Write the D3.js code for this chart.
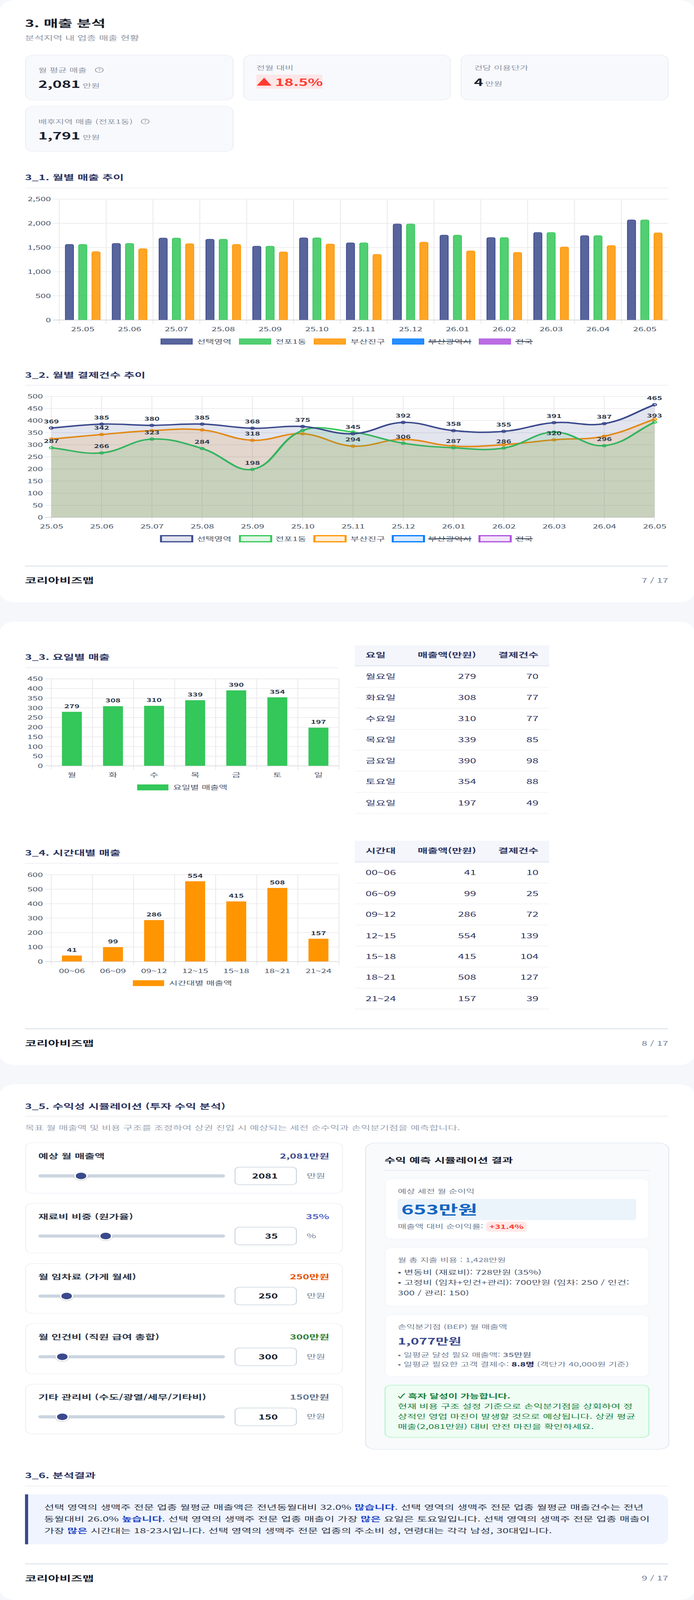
<!DOCTYPE html>
<html lang="ko">
<head>
<meta charset="utf-8">
<title>3. 매출 분석</title>
<script src="https://cdnjs.cloudflare.com/ajax/libs/d3/7.8.5/d3.min.js"></script>
<style>
html,body{margin:0;padding:0;background:#f5f7fb;overflow:hidden;}
svg{display:block;width:100vw;height:100vh;}
text{font-family:"Noto Sans CJK KR","Noto Sans KR",sans-serif;}
</style>
</head>
<body>
<svg id="page" viewBox="0 0 1776 6604" preserveAspectRatio="none"></svg>
<script>
// ---------- data ----------
const months = ["25.05","25.06","25.07","25.08","25.09","25.10","25.11","25.12","26.01","26.02","26.03","26.04","26.05"];
const salesSelected = [1567,1587,1697,1674,1529,1702,1598,1989,1759,1708,1812,1748,2073];
const salesDong     = [1567,1587,1697,1674,1529,1702,1598,1989,1759,1708,1812,1748,2073];
const salesDistrict = [1416,1478,1580,1567,1411,1575,1360,1613,1432,1401,1513,1541,1805];
const salesTicks = [0,500,1000,1500,2000,2500];

const countSelected = [369,385,380,385,368,375,345,392,358,355,391,387,465];
const countDong     = [287,266,323,284,198,359,352,306,287,286,352,296,393];
const countDistrict = [323,342,358,361,318,345,294,322,294,300,320,335,405];
const countDongLabels     = [287,266,323,284,198,null,null,306,287,286,null,296,393];
const countDistrictLabels = [null,342,null,null,318,null,294,null,null,null,320,null,null];
const countTicks = [0,50,100,150,200,250,300,350,400,450,500];

const legendNames = ["선택영역","전포1동","부산진구","부산광역시","전국"];
const legendColors = ["#3b4a8c","#34c759","#ff9500","#007aff","#af52de"];
const legendHidden = [false,false,false,true,true];

const weekdays = ["월","화","수","목","금","토","일"];
const weekdayNames = ["월요일","화요일","수요일","목요일","금요일","토요일","일요일"];
const weekdaySales = [279,308,310,339,390,354,197];
const weekdayCounts = [70,77,77,85,98,88,49];
const weekdayTicks = [0,50,100,150,200,250,300,350,400,450];

const hours = ["00~06","06~09","09~12","12~15","15~18","18~21","21~24"];
const hourSales = [41,99,286,554,415,508,157];
const hourCounts = [10,25,72,139,104,127,39];
const hourTicks = [0,100,200,300,400,500,600];

const tableSalesHeader = "매출액(만원)";
const tableCountHeader = "결제건수";

const sliderLabels = ["예상 월 매출액","재료비 비중 (원가율)","월 임차료 (가게 월세)","월 인건비 (직원 급여 총합)","기타 관리비 (수도/광열/세무/기타비)"];
const sliderTexts = ["2,081만원","35%","250만원","300만원","150만원"];
const sliderValues = [2081,35,250,300,150];
const sliderMax = [10000,100,2000,3000,1500];
const sliderUnits = ["만원","%","만원","만원","만원"];
const sliderColors = ["#3b4a8c","#5a67c4","#e65100","#2e7d32","#64748b"];

// ---------- helpers ----------
const svg = d3.select("#page");
const NAVY="#2d3561", INK="#1a202c", TICK="#4a5568", GRID="#e9e9ee", ZERO="#d9d9dd";

function txt(x,y,s,o={}){ // y is the visual centre of the line
  return svg.append("text").attr("x",x).attr("y",y).attr("dy",o.base?0:"0.37em")
    .attr("font-size",o.size||24).attr("font-weight",o.weight||400)
    .attr("fill",o.fill||INK).attr("text-anchor",o.anchor||"start").text(s);
}
function rich(x,y,runs,o={}){
  const t=svg.append("text").attr("x",x).attr("y",y).attr("dy",o.base?0:"0.37em")
    .attr("font-size",o.size||24).attr("fill",o.fill||INK);
  runs.forEach(r=>{
    const sp=t.append("tspan").text(r[0]);
    const st=r[1]||{};
    if(st.weight) sp.attr("font-weight",st.weight);
    if(st.fill) sp.attr("fill",st.fill);
    if(st.size) sp.attr("font-size",st.size);
    if(st.dx) sp.attr("dx",st.dx);
  });
  return t;
}
function box(x,y,w,h,r,fill,stroke,sw){
  return svg.append("rect").attr("x",x).attr("y",y).attr("width",w).attr("height",h).attr("rx",r)
    .attr("fill",fill).attr("stroke",stroke||"none").attr("stroke-width",sw||0);
}
function rule(x1,x2,y,c,w){
  svg.append("line").attr("x1",x1).attr("x2",x2).attr("y1",y).attr("y2",y).attr("stroke",c).attr("stroke-width",w);
}
function sectionTitle(s,y,ry,x2){
  txt(64,y,s,{size:30,weight:700,fill:NAVY});
  rule(64,x2||1710,ry,"#f0f1f6",3.5);
}
function footer(y,page){
  rule(64,1710,y,"#cbd5e0",2.5);
  txt(64,y+59.5,"코리아비즈맵",{size:32,weight:700,fill:INK});
  txt(1710,y+59.5,page,{size:26,fill:"#718096",anchor:"end"});
}
function helpIcon(cx,cy){
  svg.append("circle").attr("cx",cx).attr("cy",cy).attr("r",10).attr("fill","none").attr("stroke","#8a94a6").attr("stroke-width",2);
  txt(cx,cy,"?",{size:14,fill:"#8a94a6",anchor:"middle"});
}
function yAxis(y,ticks,left,right,fmt){
  const g=svg.append("g").attr("transform",`translate(${left},0)`)
    .call(d3.axisLeft(y).tickValues(ticks).tickFormat(fmt).tickSizeOuter(0));
  g.select(".domain").remove();
  g.selectAll(".tick line").attr("x1",-16).attr("x2",right-left)
    .attr("stroke",d=>d===0?ZERO:GRID).attr("stroke-width",d=>d===0?3:2.5);
  g.selectAll(".tick text").attr("x",-21.5).attr("dy","0.37em")
    .attr("font-size",24).attr("fill",TICK).attr("font-family",null);
  return g;
}
function vGrid(xs,top,bottom){
  svg.append("g").selectAll("line").data(xs).join("line")
    .attr("x1",d=>d).attr("x2",d=>d).attr("y1",top).attr("y2",bottom)
    .attr("stroke",GRID).attr("stroke-width",2);
}
function xAxis(x,y0,labelY){
  const g=svg.append("g").attr("transform",`translate(0,${labelY})`)
    .call(d3.axisBottom(x).tickSize(0).tickPadding(0));
  g.select(".domain").remove();
  g.selectAll(".tick line").remove();
  g.selectAll(".tick text").attr("y",0).attr("dy","0.37em").attr("font-size",24).attr("fill",TICK).attr("font-family",null);
}
function legendItem(bx,tx,cy,h,i,o){
  box(bx,cy-h/2,80,h,0,o.fill,o.stroke||"none",o.sw||0);
  const t=txt(tx,cy,o.name||legendNames[i],{size:24,fill:TICK});
  if(o.hidden){
    const w=t.node().getComputedTextLength();
    rule(tx,tx+w,cy,"#3a4451",3.5);
  }
}
function alpha(c,a){const k=d3.rgb(c);k.opacity=a;return k.formatRgb();}
function topRounded(x,y,w,h,r){
  const p=d3.path();
  p.moveTo(x,y+h); p.lineTo(x,y+r);
  p.quadraticCurveTo(x,y,x+r,y); p.lineTo(x+w-r,y);
  p.quadraticCurveTo(x+w,y,x+w,y+r); p.lineTo(x+w,y+h);
  return p.toString();
}
// Chart.js style bezier spline (tension 0.4) as a d3 curve
function ChartSpline(ctx){this._c=ctx;}
ChartSpline.prototype={
  areaStart(){this._line=0;},
  areaEnd(){this._line=NaN;},
  lineStart(){this._p=[];},
  point(x,y){this._p.push([x,y]);},
  lineEnd(){
    const p=this._p,c=this._c,T=0.4;
    const cp=p.map((cur,i)=>{
      const a=p[i-1]||cur,b=p[i+1]||cur;
      const d01=Math.hypot(cur[0]-a[0],cur[1]-a[1]),d12=Math.hypot(b[0]-cur[0],b[1]-cur[1]);
      const s=d01+d12||1,fa=T*d01/s,fb=T*d12/s;
      return {p:[cur[0]-fa*(b[0]-a[0]),cur[1]-fa*(b[1]-a[1])],n:[cur[0]+fb*(b[0]-a[0]),cur[1]+fb*(b[1]-a[1])]};
    });
    p.forEach((q,i)=>{
      if(i===0){ this._line?c.lineTo(q[0],q[1]):c.moveTo(q[0],q[1]); }
      else c.bezierCurveTo(cp[i-1].n[0],cp[i-1].n[1],cp[i].p[0],cp[i].p[1],q[0],q[1]);
    });
    if(this._line||(this._line!==0&&p.length===1)) c.closePath();
    this._line=1-this._line;
  }
};
const chartSpline=ctx=>new ChartSpline(ctx);

// ---------- cards ----------
[[0,2486.5],[2565,4396],[4475,6604]].forEach(c=>box(0,c[0],1776,c[1]-c[0],40,"#ffffff"));

// ---------- header + KPI ----------
txt(64,97,"3. 매출 분석",{size:40,weight:700,fill:INK});
txt(64,156,"분석지역 내 업종 매출 현황",{size:26,fill:"#8b95a5"});

function kpi(x,y,w,h){box(x,y,w,h,22,"#f8f9fd","#eef0f5",2.5);}
kpi(65.5,227,531,186); kpi(623.5,227,529,186); kpi(1180,227,530,186); kpi(65.5,439,531,186);
const GREY="#8a94a6";
txt(98,289,"월 평균 매출",{size:24,fill:GREY}); helpIcon(254,289);
rich(98,363,[["2,081",{weight:700,size:40}],["만원",{size:24,fill:GREY,dx:6}]],{base:true});
txt(656,279,"전월 대비",{size:24,fill:GREY});
box(656,308,169,58,0,"#fbe6e8");
rich(656,354,[["▲",{weight:700,size:40,fill:"#ff3b30"}],["18.5%",{weight:700,size:40,fill:"#ff3b30",dx:8}]],{base:true});
txt(1213,279,"건당 이용단가",{size:24,fill:GREY});
rich(1213,354,[["4",{weight:700,size:40}],["만원",{size:24,fill:GREY,dx:5}]],{base:true});
txt(98,501.5,"배후지역 매출 (전포1동)",{size:24,fill:GREY}); helpIcon(371.5,501.5);
rich(98,575.5,[["1,791",{weight:700,size:40}],["만원",{size:24,fill:GREY,dx:6}]],{base:true});

// ---------- 3_1 bars ----------
sectionTitle("3_1. 월별 매출 추이",732,775.5);
(function(){
  const L=151.8,R=1710,T=821.3,B=1320.3;
  const x=d3.scaleBand().domain(months).range([L,R]);
  const y=d3.scaleLinear().domain([0,2500]).range([B,T]);
  vGrid(months.map(m=>x(m)),T,B+16.5);
  yAxis(y,salesTicks,L,R,d3.format(","));
  xAxis(x,B,1358.6);
  const series=[salesSelected,salesDong,salesDistrict];
  months.forEach((m,mi)=>{
    const c=x(m)+x.bandwidth()/2;
    const inner=d3.scaleBand().domain([0,1,2]).range([c-51,c+51]).paddingInner(1/3).paddingOuter(1/6);
    series.forEach((s,si)=>{
      const v=s[mi],top=y(v);
      svg.append("path").attr("d",topRounded(inner(si)+1,top+1,inner.bandwidth()-2,y(0)-top-1,6))
        .attr("fill",alpha(legendColors[si],0.85)).attr("stroke",legendColors[si]).attr("stroke-width",2);
    });
  });
  const bx=[412,612.7,804,1004.5,1226.5],tx=[504,704.4,897,1096,1319];
  legendNames.forEach((n,i)=>legendItem(bx[i],tx[i],1409.6,23,i,{fill:alpha(legendColors[i],0.85),stroke:legendColors[i],sw:2,hidden:legendHidden[i]}));
})();

// ---------- 3_2 lines ----------
sectionTitle("3_2. 월별 결제건수 추이",1548,1590);
(function(){
  const L=131.4,R=1675,T=1635.6,B=2135;
  const x=d3.scalePoint().domain(months).range([L,R]);
  const y=d3.scaleLinear().domain([0,500]).range([B,T]);
  vGrid(months.map(m=>x(m)),T,B+15);
  yAxis(y,countTicks,L,R,d3.format("d"));
  xAxis(x,B,2172.6);
  const series=[countSelected,countDong,countDistrict];
  const area=d3.area().x((d,i)=>x(months[i])).y0(y(0)).y1(d=>y(d)).curve(chartSpline);
  const line=d3.line().x((d,i)=>x(months[i])).y(d=>y(d)).curve(chartSpline);
  [2,1,0].forEach(si=>{
    const c=legendColors[si],s=series[si];
    svg.append("path").attr("d",area(s)).attr("fill",alpha(c,0.15));
    svg.append("path").attr("d",line(s)).attr("fill","none").attr("stroke",c).attr("stroke-width",6);
    svg.append("g").selectAll("circle").data(s).join("circle")
      .attr("cx",(d,i)=>x(months[i])).attr("cy",d=>y(d)).attr("r",5)
      .attr("fill",alpha(c,0.15)).attr("stroke",c).attr("stroke-width",3);
  });
  [countSelected,countDongLabels,countDistrictLabels].forEach(s=>{
    s.forEach((v,i)=>{ if(v!==null)
      txt(x(months[i]),y(v)-27.5,v,{size:22,weight:700,fill:"#2d3748",anchor:"middle"}); });
  });
  const bx=[412,614,804.5,1005,1227],tx=[504,704.4,897,1096,1319];
  legendNames.forEach((n,i)=>legendItem(bx[i],tx[i],2223.6,25,i,{fill:alpha(legendColors[i],0.15),stroke:legendColors[i],sw:5,hidden:legendHidden[i]}));
})();
footer(2336.5,"7 / 17");

// ---------- day / hour bars + tables ----------
function barPanel(cats,vals,ticks,color,T,B,labelY,name,legY,legH,bx,tx){
  const L=131.4,R=867.5;
  const x=d3.scaleBand().domain(cats).range([L,R]);
  const y=d3.scaleLinear().domain([0,ticks[ticks.length-1]]).range([B,T]);
  vGrid(cats.map(c=>x(c)).concat([R]),T,B+16.5);
  yAxis(y,ticks,L,R,d3.format("d"));
  xAxis(x,B,labelY);
  svg.append("g").selectAll("rect").data(vals).join("rect")
    .attr("x",(d,i)=>x(cats[i])+x.bandwidth()/2-25.5).attr("width",51)
    .attr("y",d=>y(d)).attr("height",d=>y(0)-y(d)).attr("fill",color);
  vals.forEach((v,i)=>txt(x(cats[i])+x.bandwidth()/2,y(v)-23.5,v,{size:22,weight:700,fill:"#2d3748",anchor:"middle"}));
  legendItem(bx,tx,legY,legH,0,{fill:color,name:name});
}
function table(head,c1,c2,c3,hT,hB,hC,rowC,lines){
  box(908,hT,497.4,hB-hT,0,"#f4f6fb");
  rule(908,1405.4,hB-2,"#e2e8f0",4);
  txt(935.5,hC,head,{size:28,weight:700,fill:NAVY});
  txt(1218.6,hC,tableSalesHeader,{size:28,weight:700,fill:NAVY,anchor:"end"});
  txt(1378,hC,tableCountHeader,{size:28,weight:700,fill:NAVY,anchor:"end"});
  c1.forEach((n,i)=>{
    txt(935.5,rowC[i],n,{size:28,fill:NAVY});
    txt(1218.6,rowC[i],c2[i],{size:28,fill:NAVY,anchor:"end"});
    txt(1378,rowC[i],c3[i],{size:28,fill:NAVY,anchor:"end"});
    rule(908,1405.4,lines[i],"#eff1f5",2.5);
  });
}
sectionTitle("3_3. 요일별 매출",2711.7,2756,867.5);
barPanel(weekdays,weekdaySales,weekdayTicks,"#34c759",2801.5,3160.7,3197.5,"요일별 매출액",3250,24.5,351,443);
table("요일",weekdayNames,weekdaySales,weekdayCounts,2662.8,2750,2703,
  [2791.8,2879.6,2966,3053.5,3139.7,3226,3314],[2836.7,2923,3010.7,3096.4,3182.7,3270.4,3356.8]);

sectionTitle("3_4. 시간대별 매출",3520,3563.4,867.5);
barPanel(hours,hourSales,hourTicks,"#ff9500",3610,3968.4,4006.6,"시간대별 매출액",4058,24,340,432.6);
table("시간대",hours,hourSales,hourCounts,3470.3,3559.6,3511.7,
  [3601.7,3687.8,3773.9,3861.8,3948,4034,4122],[3645,3731,3818.5,3904.6,3991.3,4078.7,4164.8]);
footer(4246.4,"8 / 17");

// ---------- 3_5 simulation ----------
sectionTitle("3_5. 수익성 시뮬레이션 (투자 수익 분석)",4566,4607.4);
txt(64,4654,"목표 월 매출액 및 비용 구조를 조정하여 상권 진입 시 예상되는 세전 순수익과 손익분기점을 예측합니다.",{size:26,fill:"#9aa3b2"});

const sliderTop=[4716.5,4966.5,5215.2,5463,5713], sliderBottom=[4925,5172.4,5421,5671,5919];
const labelCY=[4771,5021,5269.4,5517.9,5767.3], trackCY=[4853.6,5101.7,5349.5,5600,5848];
sliderLabels.forEach((lab,i)=>{
  box(65.5,sliderTop[i],811,sliderBottom[i]-sliderTop[i],20,"#ffffff","#eef1f5",2.5);
  txt(98,labelCY[i],lab,{size:28,weight:700,fill:"#2d3748"});
  txt(842.7,labelCY[i],sliderTexts[i],{size:28,weight:700,fill:sliderColors[i],anchor:"end"});
  box(98,trackCY[i]-6.5,478,13,6.5,"#cbd5e0");
  const sx=d3.scaleLinear().domain([0,sliderMax[i]]).range([115,559]);
  svg.append("circle").attr("cx",sx(sliderValues[i])).attr("cy",trackCY[i]+2).attr("r",18.5).attr("fill","rgba(0,0,0,.14)");
  svg.append("circle").attr("cx",sx(sliderValues[i])).attr("cy",trackCY[i]).attr("r",15.5)
    .attr("fill","#3b4a8c").attr("stroke","#fff").attr("stroke-width",4);
  box(601.5,trackCY[i]-36.5,157,73,12,"#ffffff","#cbd5e0",2.5);
  txt(711,trackCY[i],sliderValues[i],{size:28,weight:700,fill:INK,anchor:"end"});
  txt(784.7,trackCY[i]-1,sliderUnits[i],{size:26,fill:"#718096"});
});

box(935.5,4717.5,776,1265,26,"#f8fafc","#e2e8f0",2.5);
txt(984,4788,"수익 예측 시뮬레이션 결과",{size:30,weight:700,fill:INK});
rule(984,1661.7,4831,"#e2e8f0",2.5);

box(985.5,4865.5,675,248,16,"#ffffff","#f1f4f8",2);
txt(1018,4917,"예상 세전 월 순이익",{size:24,fill:"#718096"});
box(1017.7,4948,610.3,88,8,"#ebf3fb");
txt(1027,4992,"653만원",{size:54,weight:700,fill:"#1565c0"});
txt(1018,5062,"매출액 대비 순이익률:",{size:24,fill:"#718096"});
box(1244,5042,104,42,10,"#ffe9e8");
txt(1296,5063,"+31.4%",{size:24,weight:700,fill:"#ff3b30",anchor:"middle"});

box(985.5,5149.5,675,241,16,"#ffffff","#f1f4f8",2);
txt(1018,5200,"월 총 지출 비용 : 1,428만원",{size:24,fill:"#718096"});
txt(1018,5251,"• 변동비 (재료비): 728만원 (35%)",{size:26,fill:"#4a5568"});
txt(1018,5294,"• 고정비 (임차+인건+관리): 700만원 (임차: 250 / 인건:",{size:26,fill:"#4a5568"});
txt(1018,5336,"300 / 관리: 150)",{size:26,fill:"#4a5568"});

box(985.5,5426.5,675,255,16,"#ffffff","#f1f4f8",2);
txt(1018,5476.5,"손익분기점 (BEP) 월 매출액",{size:24,fill:"#718096"});
txt(1018,5537,"1,077만원",{size:36,weight:700,fill:"#3b4a8c"});
rich(1018,5592.5,[["• 일평균 달성 필요 매출액: ",{}],["35만원",{weight:700}]],{size:24,fill:"#718096"});
rich(1018,5631.5,[["• 일평균 필요한 고객 결제수: ",{}],["8.8명",{weight:700,fill:"#1a2050"}],[" (객단가 40,000원 기준)",{}]],{size:24,fill:"#718096"});

box(985.5,5717.5,675,215,16,"#f0fdf4","#bbf7d0",3);
txt(1018,5762.8,"✓ 흑자 달성이 가능합니다.",{size:26,weight:700,fill:"#15803d"});
txt(1018,5804.5,"현재 비용 구조 설정 기준으로 손익분기점을 상회하여 정",{size:26,fill:"#15803d"});
txt(1018,5847,"상적인 영업 마진이 발생할 것으로 예상됩니다. 상권 평균",{size:26,fill:"#15803d"});
txt(1018,5888.7,"매출(2,081만원) 대비 안전 마진을 확인하세요.",{size:26,fill:"#15803d"});

// ---------- 3_6 ----------
sectionTitle("3_6. 분석결과",6090.5,6134);
box(64,6168,1646,206,24,"#f0f4ff");
svg.append("rect").attr("x",64).attr("y",6168).attr("width",30).attr("height",206).attr("fill","#f0f4ff");
svg.append("rect").attr("x",64).attr("y",6168).attr("width",8).attr("height",206).attr("fill","#3b4a8c");
const BL={weight:700,fill:"#1d45c4"}, BODY="#2d3748";
rich(113,6222,[["선택 영역의 생맥주 전문 업종 월평균 매출액은 전년동월대비 32.0% "],["많습니다",BL],[". 선택 영역의 생맥주 전문 업종 월평균 매출건수는 전년"]],{size:28,fill:BODY});
rich(113,6269.6,[["동월대비 26.0% "],["높습니다",BL],[". 선택 영역의 생맥주 전문 업종 매출이 가장 "],["많은",BL],[" 요일은 토요일입니다. 선택 영역의 생맥주 전문 업종 매출이"]],{size:28,fill:BODY});
rich(113,6317.8,[["가장 "],["많은",BL],[" 시간대는 18-23시입니다. 선택 영역의 생맥주 전문 업종의 주소비 성, 연령대는 각각 남성, 30대입니다."]],{size:28,fill:BODY});
footer(6455,"9 / 17");
</script>
</body>
</html>
